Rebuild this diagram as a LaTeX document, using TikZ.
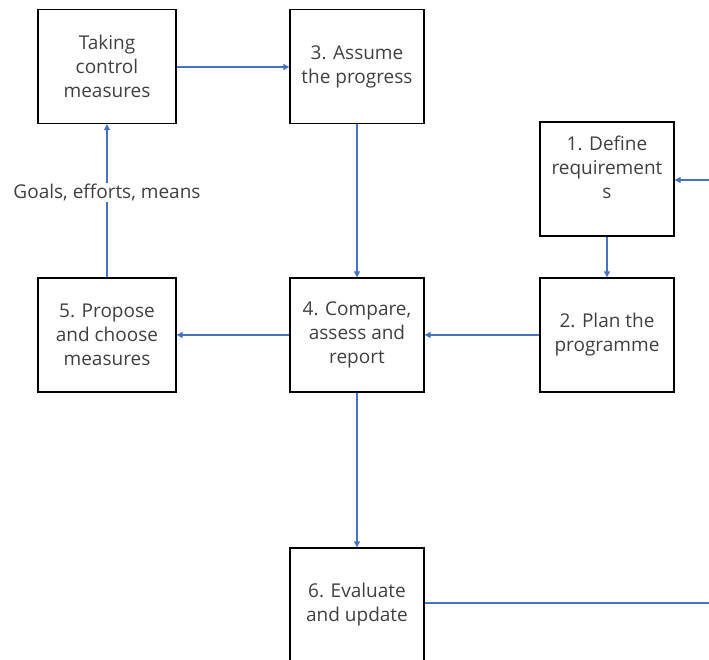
\documentclass[tikz,border=0pt]{standalone}
\usepackage{fontspec}
\setmainfont{Open Sans}
\usetikzlibrary{arrows.meta}
\definecolor{arrowblue}{HTML}{4472C4}
\definecolor{txtgrey}{HTML}{404040}
\begin{document}
\begin{tikzpicture}[x=1pt,y=-1pt,
  box/.style={draw=black,line width=1.3pt,minimum width=#1,minimum height=114pt,inner sep=2pt,
    align=center,text=txtgrey,font=\fontsize{19}{24}\selectfont},
  box/.default=134pt,
  conn/.style={draw=arrowblue,line width=1.1pt,-{Triangle[length=6pt,width=6pt]}},
  plain/.style={draw=arrowblue,line width=1.1pt}]
\useasboundingbox (0,0) rectangle (709,659);
\node[box=138pt] (tcm) at (107,66.5) {Taking\\control\\measures};
\node[box] (asm) at (357,66.5) {3. Assume\\the progress};
\node[box] (def) at (607,179) {1. Define\\requirement\\s\\\mbox{}};
\node[box=138pt] (prop) at (107,335) {5. Propose\\and choose\\measures};
\node[box] (cmp) at (357,335) {4. Compare,\\assess and\\report};
\node[box] (plan) at (607,335) {2. Plan the\\programme};
\node[box] (eval) at (357,605) {6. Evaluate\\and update};
\coordinate (inR) at (709,180);
\coordinate (outR) at (709,603);
\draw[conn] (inR) -- (def.east |- inR);
\draw[conn] (def) -- (plan);
\draw[conn] (plan) -- (cmp);
\draw[conn] (cmp) -- (prop);
\draw[conn] (prop) -- node[pos=0.555,fill=white,text=txtgrey,inner sep=1pt,font=\fontsize{19}{24}\selectfont] (goals) {Goals, efforts, means} (tcm);
\draw[conn] (tcm.east |- 0,67) -- (asm.west |- 0,67);
\draw[conn] (asm) -- (cmp);
\draw[conn] (cmp) -- (eval);
\draw[plain] (eval.east |- outR) -- (outR);
\end{tikzpicture}
\end{document}
